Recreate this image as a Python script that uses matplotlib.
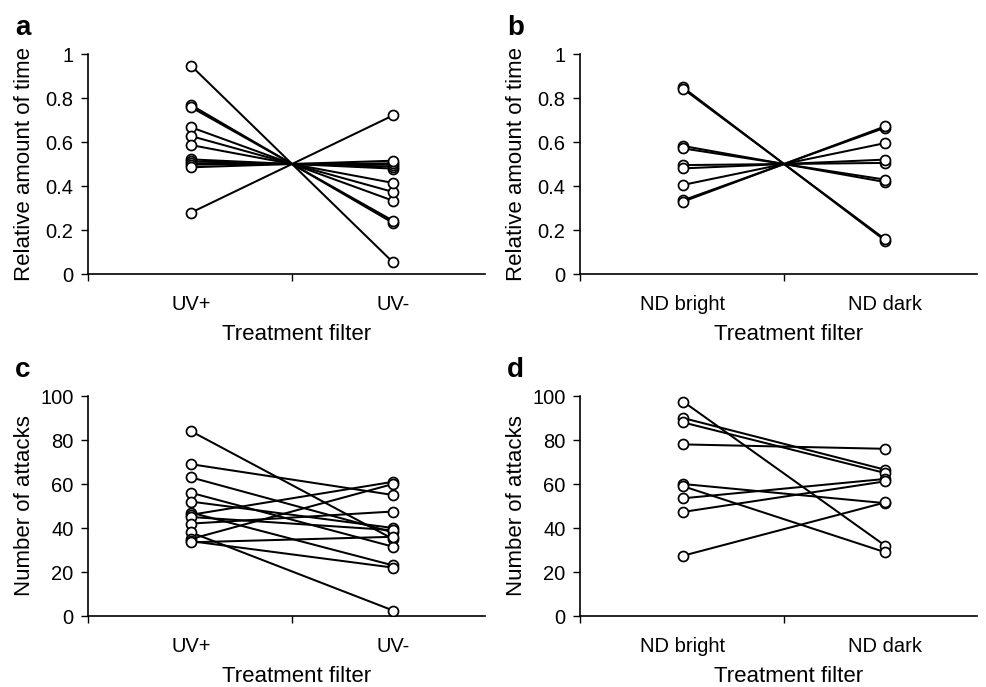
import matplotlib
matplotlib.use("Agg")
import matplotlib.pyplot as plt
import numpy as np

plt.rcParams['font.family'] = ['Liberation Sans', 'DejaVu Sans']

# ---------------- data ----------------
cats_uv = ["UV+", "UV-"]
cats_nd = ["ND bright", "ND dark"]

# panel a: relative amount of time (UV+ vs UV-)
a_uvplus = [0.947, 0.768, 0.758, 0.667, 0.627, 0.586, 0.521, 0.512, 0.503, 0.497, 0.485, 0.279]
a_uvminus = [0.053, 0.232, 0.242, 0.333, 0.373, 0.414, 0.479, 0.488, 0.497, 0.503, 0.515, 0.721]

# panel b: relative amount of time (ND bright vs ND dark)
b_bright = [0.848, 0.842, 0.582, 0.571, 0.495, 0.480, 0.405, 0.335, 0.329]
b_dark = [0.152, 0.158, 0.418, 0.429, 0.505, 0.520, 0.595, 0.665, 0.671]

# panel c: number of attacks (UV+ vs UV-)
c_uvplus = [84, 69, 63, 56, 52, 47, 46, 45, 42, 38, 35, 34, 33.5]
c_uvminus = [35, 55, 38, 31.5, 40, 23, 61, 39, 47.5, 2.5, 60, 22, 36]

# panel d: number of attacks (ND bright vs ND dark)
d_bright = [97.5, 90, 88, 78, 60, 59, 53.5, 47.3, 27.4]
d_dark = [32, 66.5, 65, 76, 51.3, 29, 62.3, 61.2, 51.6]

ticks_rel = [0, 0.2, 0.4, 0.6, 0.8, 1.0]
ticklabels_rel = ["0", "0.2", "0.4", "0.6", "0.8", "1"]
ticks_att = [0, 20, 40, 60, 80, 100]
ticklabels_att = ["0", "20", "40", "60", "80", "100"]

# ---------------- figure ----------------
W, H = 987, 687
fig = plt.figure(figsize=(W / 100, H / 100), dpi=100)

XL = (-0.51, 1.455)


def make_ax(left, bottom, right, top):
    return fig.add_axes([left / W, 1 - bottom / H, (right - left) / W, (bottom - top) / H])


def draw(ax, left_vals, right_vals, cats, ylim, yticks, yticklabels, ylabel, letter, px_left, px_bottom, px_top):
    x0 = np.zeros(len(left_vals))
    x1 = np.ones(len(right_vals))
    for l, r in zip(left_vals, right_vals):
        ax.plot([0, 1], [l, r], color='black', lw=1.45, zorder=2, solid_capstyle='round')
    ax.plot(x0, left_vals, ls='none', marker='o', ms=7.2, mfc='white', mec='black', mew=1.25, zorder=3)
    ax.plot(x1, right_vals, ls='none', marker='o', ms=7.2, mfc='white', mec='black', mew=1.25, zorder=3)
    ax.set_xlim(*XL)
    ax.set_ylim(*ylim)
    for s in ['top', 'right']:
        ax.spines[s].set_visible(False)
    for s in ['left', 'bottom']:
        ax.spines[s].set_linewidth(1.2)
    ax.set_yticks(yticks)
    ax.set_yticklabels(yticklabels)
    ax.tick_params(axis='y', direction='out', length=5, width=1.0, pad=5.5, labelsize=14.5)
    ax.set_xticks([0, 1])
    ax.set_xticklabels(cats)
    ax.tick_params(axis='x', which='major', length=0, pad=15, labelsize=14.5)
    ax.set_xticks([XL[0], 0.5], minor=True)
    ax.tick_params(axis='x', which='minor', direction='out', length=5, width=1.0)
    ax.patch.set_visible(False)
    # y label
    fig.text((px_left - 63) / W, 1 - ((px_bottom + px_top) / 2) / H, ylabel,
             rotation=90, ha='center', va='center', fontsize=16)
    # x label
    fig.text((px_left + 209) / W, 1 - (px_bottom + 66) / H, "Treatment filter",
             ha='center', va='baseline', fontsize=16)
    # panel letter
    fig.text((px_left - 73) / W, 1 - (px_top - 19) / H, letter,
             ha='left', va='baseline', fontsize=20, fontweight='bold')


ax_a = make_ax(88, 274, 485, 54)
draw(ax_a, a_uvplus, a_uvminus, cats_uv, (0, 1), ticks_rel, ticklabels_rel,
     "Relative amount of time", "a", 88, 274, 54)

ax_b = make_ax(580, 274, 977, 54)
draw(ax_b, b_bright, b_dark, cats_nd, (0, 1), ticks_rel, ticklabels_rel,
     "Relative amount of time", "b", 580, 274, 54)

ax_c = make_ax(88, 616, 485, 396)
draw(ax_c, c_uvplus, c_uvminus, cats_uv, (0, 100), ticks_att, ticklabels_att,
     "Number of attacks", "c", 88, 616, 396)

ax_d = make_ax(580, 616, 977, 396)
draw(ax_d, d_bright, d_dark, cats_nd, (0, 100), ticks_att, ticklabels_att,
     "Number of attacks", "d", 580, 616, 396)

fig.savefig("out.png", dpi=100)
